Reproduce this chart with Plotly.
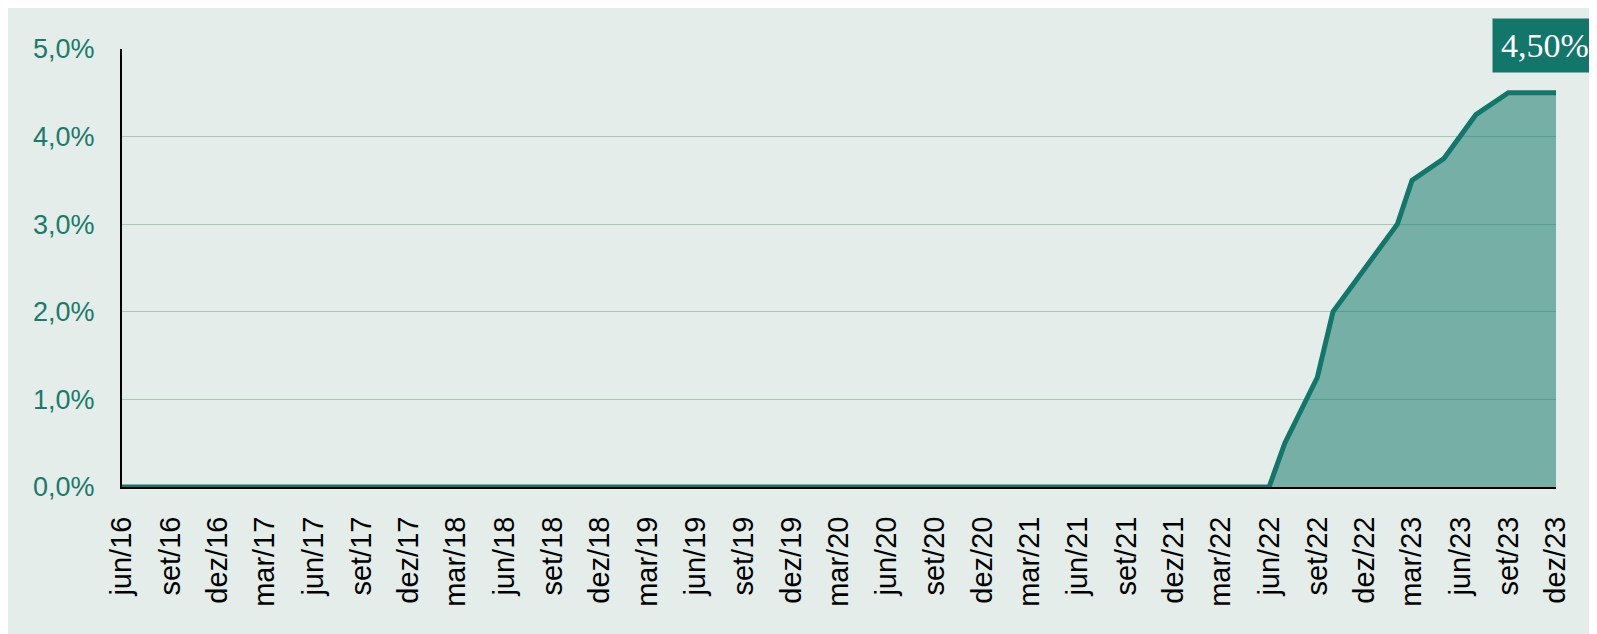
import plotly.graph_objects as go

# ---- data ----
dates = ["2016-06-01", "2022-06-01", "2022-07-01", "2022-09-01", "2022-10-01",
         "2023-02-01", "2023-03-01", "2023-05-01", "2023-07-01", "2023-09-01",
         "2023-12-01"]
values = [0.0, 0.0, 0.5, 1.25, 2.0, 3.0, 3.5, 3.75, 4.25, 4.5, 4.5]

tick_dates = []
tick_labels = []
months_pt = {3: "mar", 6: "jun", 9: "set", 12: "dez"}
y, m = 2016, 6
while (y, m) <= (2023, 12):
    tick_dates.append(f"{y}-{m:02d}-01")
    tick_labels.append(f"{months_pt[m]}/{str(y)[2:]}")
    m += 3
    if m > 12:
        m -= 12
        y += 1

y_ticks = [0, 1, 2, 3, 4, 5]
y_labels = ["0,0%", "1,0%", "2,0%", "3,0%", "4,0%", "5,0%"]
last_label = "4,50%"

# ---- styles ----
PANEL = "#E4EDE9"
LINE = "#12766A"
FILL = "rgba(18,118,106,0.52)"
GRID = "#A8C9B7"
YTXT = "#1A7A6C"

# figure is placed by the page at (8, 8) inside the 1597x634 window
W, H = 1589, 626
L, R, T, B = 114, 41, 41, 147
PW, PH = W - L - R, H - T - B

def px_x(p):
    return (p - L) / PW

def px_y(p):
    return (H - B - p) / PH

fig = go.Figure()
fig.add_trace(go.Scatter(
    x=dates, y=values, mode="lines",
    line=dict(color=LINE, width=5),
    fill="tozeroy", fillcolor=FILL,
    hoverinfo="skip", showlegend=False,
))

fig.update_layout(
    width=W, height=H, autosize=False,
    margin=dict(l=L, r=R, t=T, b=B, pad=0),
    paper_bgcolor=PANEL,
    plot_bgcolor=PANEL,
    font=dict(family="Liberation Sans, Arial, sans-serif", size=27, color="black"),
    showlegend=False,
    xaxis=dict(
        type="date", range=[dates[0], dates[-1]],
        tickvals=tick_dates, ticktext=tick_labels, tickangle=-90,
        showgrid=False, zeroline=False,
        showline=True, linecolor="black", linewidth=2,
        ticks="", ticklabelstandoff=16,
        tickfont=dict(size=29, color="black"),
        automargin=False,
    ),
    yaxis=dict(
        range=[0, 5], tickvals=y_ticks, ticktext=y_labels,
        showgrid=True, gridcolor=GRID, gridwidth=1,
        zeroline=False,
        showline=True, linecolor="black", linewidth=2,
        ticks="", ticklabelstandoff=20,
        tickfont=dict(size=27, color=YTXT),
        automargin=False,
    ),
)

fig.add_annotation(
    xref="paper", yref="paper", x=px_x(1537), y=px_y(38),
    xanchor="center", yanchor="middle",
    text=last_label, showarrow=False,
    font=dict(family="Liberation Serif", size=34, color="white"),
    bgcolor=LINE, borderpad=8, align="center",
)

fig.write_html("out.html")
